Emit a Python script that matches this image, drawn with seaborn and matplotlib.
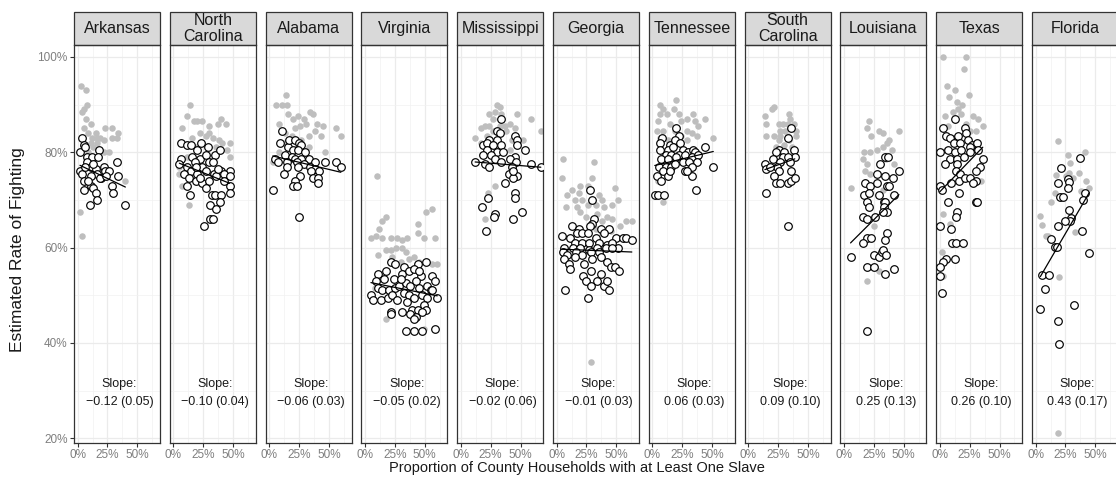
import pandas as pd
import matplotlib
matplotlib.use("Agg")
import matplotlib.pyplot as plt
from matplotlib.patches import Rectangle
from matplotlib.ticker import FuncFormatter, MultipleLocator
import seaborn as sns

# Panel order, slope labels and fitted-line intercepts (percent at x = 0).
states = ["Arkansas", "North\nCarolina", "Alabama", "Virginia", "Mississippi", "Georgia",
          "Tennessee", "South\nCarolina", "Louisiana", "Texas", "Florida"]
slopes = [-0.12, -0.10, -0.06, -0.05, -0.02, -0.01, 0.06, 0.09, 0.25, 0.26, 0.43]
slope_se = [0.05, 0.04, 0.03, 0.02, 0.06, 0.03, 0.03, 0.10, 0.13, 0.10, 0.17]
intercepts = [77.5, 78.2, 79.4, 52.9, 78.2, 59.7, 77.1, 75.1, 59.6, 71.7, 52.2]

# (share of households with a slave %, rate of fighting %).
# grey = filled grey dots, open = white circles with black edge.
ark_grey = [(3, 94), (7, 93), (8, 90), (5, 89), (4, 88.5), (7, 87), (11, 86), (5, 85), (9, 84), (12, 83),
            (15, 84), (16, 83), (19, 83), (22, 82.5), (23, 85), (29, 85), (34, 84), (33, 83), (29, 83),
            (16, 82), (13, 81), (11, 82), (26, 80), (22, 80), (40, 74), (2, 67.5), (4, 62.5), (7, 79),
            (18, 80.5), (9, 80)]
ark_open = [(4, 83), (5, 81.5), (2, 80), (6, 81), (8, 79), (12, 79), (18, 80.5), (17, 79), (8, 78), (2, 76),
            (4, 75.5), (11, 77), (15, 76.5), (16, 75.5), (22, 77), (23, 76), (26, 76), (20, 74.5), (33, 78),
            (34, 75), (29, 73), (30, 71.5), (5, 74), (5, 72), (11, 73), (13, 72.5), (15, 71.5), (16, 70),
            (10, 69), (40, 69), (6, 77), (11, 75), (13, 77.5), (19, 74.5), (9, 74), (24, 75)]

nc_grey = [(14, 90), (11, 87.5), (17, 86.5), (20, 86.5), (24, 86.5), (30, 85.5), (37, 86), (40, 87), (44, 86),
           (7, 85), (30, 84), (27, 83.5), (22, 84), (16, 83), (33, 83), (38, 82.5), (41, 82), (47, 82),
           (45, 80.5), (47, 79), (11, 79), (5, 77), (5, 75.5), (7, 73), (13, 69), (36, 81), (24, 82), (19, 81)]
nc_open = [(6, 82), (11, 81.5), (15, 81.5), (20, 80.5), (23, 82), (29, 81), (35, 79.5), (39, 80.5), (6, 78.5),
           (5, 77.5), (16, 79), (22, 78.5), (27, 79.5), (18, 78), (24, 77), (30, 78), (33, 78), (11, 77),
           (15, 76), (20, 75.5), (27, 76), (34, 75.5), (40, 76), (47, 76), (9, 75.5), (13, 74.5), (19, 74),
           (24, 73.5), (30, 74), (36, 75), (42, 75.5), (47, 75), (47, 73), (11, 73), (22, 74.5), (27, 72.5),
           (32, 71), (35, 71), (40, 71), (47, 71.5), (14, 71), (31, 69), (39, 69.5), (36, 68), (31, 66),
           (33, 66), (26, 64.5), (19, 77), (37, 76.5), (42, 74)]

ala_grey = [(14, 92), (6, 90), (11, 90), (15, 90), (8, 86), (16, 88), (20, 87), (24, 87.5), (29, 87), (34, 88.5),
            (37, 88), (31, 86), (40, 86), (45, 85.5), (56, 85), (60, 83.5), (22, 85), (26, 85.5), (13, 84),
            (19, 83.5), (33, 83.5), (38, 84.5), (43, 83.5), (27, 82.5), (23, 81), (33, 81), (47, 80), (13, 82),
            (8, 80), (3, 78)]
ala_open = [(11, 84.5), (9, 82), (16, 81), (17, 82.5), (22, 82.5), (25, 82), (27, 81.5), (20, 80.5), (24, 80.5),
            (30, 80), (13, 79.5), (19, 79), (5, 78.5), (7, 78), (15, 78), (22, 78.5), (27, 78.5), (33, 78.5),
            (38, 78), (47, 78), (56, 78), (60, 77), (23, 78), (29, 77.5), (34, 77), (38, 76.5), (42, 76),
            (35, 76), (15, 77), (12, 75.5), (24, 77), (26, 75), (37, 74.5), (41, 74.5), (22, 74), (20, 73),
            (23, 73), (41, 73.5), (3, 72), (25, 66.5)]

va_grey = [(10, 75), (17.5, 66.5), (14.5, 65.5), (12, 64), (9, 62.5), (5, 62), (14.5, 62), (21.5, 62), (27, 62),
           (31, 61.5), (35.5, 62), (44, 65), (44, 63), (49.5, 62), (51, 67.5), (56, 68), (59, 62), (10.5, 58.5),
           (17.5, 59.5), (21.5, 59.5), (26, 60), (31, 60), (34.5, 59), (37, 57.5), (41, 58), (45, 57), (51, 57),
           (56.5, 56.5), (60.5, 56.5), (30, 57), (17.5, 45), (49.5, 43), (8, 51.5), (23, 58)]
va_open = [(21.5, 57), (25, 56.5), (10.5, 54.5), (17.5, 55), (33, 56), (44, 56.5), (51, 57), (9, 53), (16, 53.5),
           (24.5, 53.5), (31, 54.5), (37, 55), (41, 55.5), (47, 54), (56.5, 54), (59, 53), (5, 50), (7, 49),
           (10.5, 51.5), (14.5, 51), (20, 51), (25, 51.5), (28.5, 52), (34, 52.5), (37.5, 52), (42.5, 53),
           (45, 51.5), (52, 52), (55, 51), (60.5, 49.5), (13, 49), (19, 49.5), (23, 50), (27, 49), (33, 50.5),
           (37, 50), (41, 49.5), (48, 50), (52, 49.5), (56.5, 51), (35.5, 48.5), (39.5, 47), (44, 47),
           (49.5, 48), (51, 47), (21.5, 46.5), (21.5, 46), (31, 46.5), (38, 46), (42.5, 45.5), (48, 46.5),
           (41, 45), (34, 42.5), (41, 42.5), (47.5, 42.5), (58.5, 43), (30, 53.5), (45, 55)]

ms_grey = [(30, 90), (33, 89.5), (29, 88.5), (24, 88), (34, 88), (27, 87), (47, 88), (59, 87), (20, 85.5),
           (17, 85), (24, 85.5), (33, 85.5), (37, 85.5), (41, 86), (45, 85), (67, 84.5), (12, 83), (22, 83.5),
           (27, 84.5), (38, 84.5), (43, 82.5), (52, 82.5), (48, 82), (17, 82), (41, 80.5), (29, 73),
           (23, 71.5), (20, 66)]
ms_open = [(34, 87), (30, 84.5), (33, 84), (45, 83.5), (47, 82.5), (47, 81.5), (19, 81.5), (24, 82.5), (30, 82.5),
           (22, 82), (27, 81.5), (34, 81.5), (54, 80.5), (22, 80.5), (30, 80), (35, 80), (19, 79.5), (25, 79.5),
           (45, 79), (41, 78.5), (29, 78.5), (12, 78), (20, 77.5), (34, 78), (46, 78), (59, 77.5), (67, 77),
           (24, 77), (43, 77), (40, 75.5), (47, 75), (44, 74.5), (44, 76), (37, 73.5), (45, 71.5), (45, 70.5),
           (22.5, 70.5), (18, 68.5), (29, 67), (28, 66.5), (51, 67.5), (44, 66), (21.5, 63.5)]

ga_grey = [(5.5, 78.5), (31, 78), (4.5, 74.5), (20, 73), (26, 73), (29.5, 74.5), (13, 72), (19, 71.5), (49, 72.5),
           (9, 71), (15, 70), (21.5, 70), (26, 69), (35.5, 71), (38, 70), (51, 70), (8, 68.5), (17.5, 68.5),
           (33, 69), (39.5, 68.5), (46.5, 69), (20, 67.5), (24.5, 66.5), (34, 67), (42.5, 66.5), (30, 65),
           (38, 65.5), (46.5, 66), (58, 65.5), (63, 65.5), (53.5, 64.5), (45.5, 63.5), (38, 63), (16, 63),
           (23, 63), (33, 64), (28.5, 36)]
ga_open = [(28, 72), (30, 70), (31.5, 66), (29.5, 65), (28, 64.5), (13, 64.5), (19, 64), (37, 64), (44, 64),
           (4.5, 62.5), (11, 62), (17.5, 63), (21.5, 63), (26, 63), (33, 62), (39.5, 63), (49.5, 62), (56, 62),
           (58, 62), (63, 61.5), (15, 61), (21.5, 61), (27, 61), (35.5, 61), (42.5, 60.5), (46.5, 61), (51, 60),
           (6.5, 60), (13.5, 60), (20, 60), (27, 59.5), (34, 60), (41, 60), (46.5, 60), (5, 59), (9, 58.5),
           (16, 59), (21.5, 58.5), (28.5, 59), (35.5, 59), (6.5, 57.5), (10.5, 56.5), (15, 58), (23, 56.5),
           (30, 57.5), (37, 58), (42.5, 57), (45.5, 56), (49, 56), (52, 55), (11, 55.5), (28.5, 55), (37, 54.5),
           (22, 54), (24.5, 53), (34, 53), (39.5, 52), (42.5, 53), (28.5, 52), (7, 51), (43.5, 51), (26.5, 49.5)]

tn_grey = [(20, 91), (6, 90), (9, 89), (18, 89), (6, 88), (12, 88), (22, 88), (34, 88), (29, 87), (44, 87),
           (5, 86.5), (15, 86), (24, 86.5), (36, 86.5), (38, 85.5), (9, 84.5), (19, 84.5), (29, 84.5), (33, 84),
           (4, 84.5), (24, 83.5), (37, 83.5), (51, 83), (6, 83), (13, 82.5), (29, 82.5), (5, 74), (9, 69.5),
           (17.5, 80.5)]
tn_open = [(20, 85), (22, 83.5), (8, 83), (6, 82), (15, 81.5), (19, 82.5), (23, 82), (6, 80.5), (13, 80.5),
           (17.5, 81), (26, 80.5), (30, 80), (34, 80.5), (36, 80), (44, 81), (11, 79.5), (16, 79.5), (22, 79.5),
           (27, 79.5), (33, 79), (38, 79.5), (7, 78.5), (13, 78.5), (20, 79), (26, 78), (31, 78), (37, 78),
           (5.5, 77), (11, 77), (16, 77), (19, 77.5), (33, 77), (51, 77), (27, 76), (9, 76), (13, 75), (15, 76),
           (33, 75), (4, 75), (7, 74), (36.5, 72), (2, 71), (5, 71), (10, 71), (29, 76)]

sc_grey = [(22, 89.5), (20, 89), (14, 87.5), (34, 88), (35, 87), (15, 86), (26, 86), (29, 86), (33, 86), (38, 86),
           (27, 84.5), (31, 84.5), (40, 84.5), (15, 83.5), (27, 83.5), (33, 83.5), (40, 83.5), (22, 83.5),
           (26, 82.5), (34, 82.5), (23, 81), (30, 81.5), (37, 81)]
sc_open = [(36, 85), (33, 83), (26, 80.5), (23, 80), (30, 80), (38, 80.5), (39, 79), (21, 78.5), (29, 79), (33, 79),
           (14, 77.5), (27, 78), (35, 78), (24, 77), (15, 76.5), (26, 76), (22, 75), (36, 76), (23, 73.5),
           (27, 73.5), (33, 73.5), (36, 74), (39, 74.5), (15, 71.5), (33, 64.5), (18, 77)]

la_grey = [(21, 86.5), (19, 85), (29, 84.5), (33, 84), (23, 83.5), (46, 84.5), (36, 82), (37.5, 82.5), (33, 81),
           (28, 80.5), (17, 80), (22, 80), (40.5, 80.5), (16, 78.5), (19, 77.5), (35.5, 78.5), (41.5, 77.5),
           (18, 76), (22, 75.5), (5.5, 72.5), (33, 72), (25, 64.5), (29, 55), (19, 53)]
la_open = [(34.5, 79), (37, 79), (30, 77.5), (46, 76), (28, 75.5), (34.5, 75), (41, 74.5), (18, 73.5), (22, 73),
           (28, 73.5), (36, 73), (37.5, 73), (17, 71), (21, 71.5), (29, 71), (41.5, 71), (33.5, 69.5),
           (34.5, 69.5), (19.5, 69.5), (21, 68.5), (33.5, 68.5), (36, 67.5), (16, 66.5), (19.5, 66), (26, 66.5),
           (33, 67.5), (19, 62), (23, 62), (16, 61), (36, 63), (34.5, 61.5), (25, 58.5), (29, 58), (32, 59),
           (33, 59.5), (35.5, 58.5), (5.5, 58), (19, 56), (25.5, 56), (41.5, 55.5), (34.5, 54.5), (19.5, 42.5)]

tx_grey = [(3, 100), (22, 100), (20.5, 97.5), (6, 94), (12.5, 93), (8, 91.5), (14, 90.5), (24.5, 92), (19, 90),
           (11, 88.5), (15, 89), (18, 88), (28, 87.5), (32, 87), (36, 85.5), (7, 85.5), (22, 86), (25, 84.5),
           (30.5, 84.5), (11, 83), (5.5, 80.5), (34.5, 74), (3, 67), (8.5, 65), (1.5, 59), (3, 54), (4, 87.5)]
tx_open = [(12.5, 87), (3, 85), (5.5, 83.5), (8.5, 83), (15, 83.5), (21, 85), (22, 84), (11.5, 82), (17, 82),
           (24, 82.5), (27, 81.5), (31, 82), (0, 80), (7, 80.5), (12.5, 80), (18, 80.5), (25, 81), (32, 80.5),
           (8.5, 78.5), (14, 78.5), (20, 79), (25, 80), (4, 77.5), (14, 77.5), (36, 78.5), (33.5, 77),
           (13.5, 76), (17, 75.5), (30, 76), (16, 74), (21, 74.5), (25, 74.5), (30.5, 74), (28, 73.5),
           (9.5, 73.5), (0, 73), (1.5, 72), (16, 71.5), (7, 69.5), (30, 69.5), (31, 69.5), (14, 67.5),
           (13.5, 66.5), (0, 64.5), (9.5, 64), (10.5, 61), (13.5, 61), (19.5, 61), (12.5, 57.5), (5.5, 57.5),
           (3, 57), (0.5, 56), (0.5, 54), (1.5, 50.5)]

fl_grey = [(18.6, 82.3), (27, 79.4), (41, 80), (29, 77.7), (36.7, 75.6), (17, 75.2), (28, 75.7), (25.5, 75),
           (31, 74.7), (42, 74), (45, 72.6), (38, 71.9), (16, 71.5), (13, 69.6), (4, 66.7), (5.5, 64.7),
           (8.5, 62.5), (10, 62.4), (33, 63.3), (20, 53.8), (18.6, 21.2)]
fl_open = [(37, 78.8), (21, 76.6), (18.6, 73.6), (27.5, 74.3), (28, 73.8), (27, 72.4), (20.5, 70.7), (23, 70.7),
           (41.5, 71.5), (40, 70), (28, 67.8), (30, 66.2), (28.5, 65.6), (25, 65.6), (18.6, 64.6), (39, 63.5),
           (13, 61.7), (16, 60.2), (17.8, 60.1), (45, 58.9), (5.3, 54.3), (11, 54.2), (8, 51.4), (4, 47.2),
           (32.5, 48), (18.6, 44.6), (20, 39.7)]

grey_pts = [ark_grey, nc_grey, ala_grey, va_grey, ms_grey, ga_grey, tn_grey, sc_grey, la_grey, tx_grey, fl_grey]
open_pts = [ark_open, nc_open, ala_open, va_open, ms_open, ga_open, tn_open, sc_open, la_open, tx_open, fl_open]

# Long table for seaborn.
rows = []
for st, gp, op in zip(states, grey_pts, open_pts):
    for x, y in gp:
        rows.append((st, x / 100, y / 100, "grey"))
    for x, y in op:
        rows.append((st, x / 100, y / 100, "open"))
df = pd.DataFrame(rows, columns=["state", "share", "rate", "kind"])

sns.set_theme(style="whitegrid", rc={"axes.edgecolor": "#333333", "grid.color": "#EBEBEB"})
plt.rcParams["font.family"] = ["Liberation Sans", "DejaVu Sans"]

g = sns.FacetGrid(df, col="state", col_order=states, sharex=True, sharey=True, height=4, aspect=0.25)
g.map_dataframe(lambda data, **kw: sns.scatterplot(data=data[data["kind"] == "grey"], x="share", y="rate",
                                                   color="#BEBEBE", s=22, linewidth=0, zorder=2))
g.map_dataframe(lambda data, **kw: sns.scatterplot(data=data[data["kind"] == "open"], x="share", y="rate",
                                                   color="white", edgecolor="black", s=30, linewidth=0.85,
                                                   zorder=3))
g.set_titles("")
g.set_axis_labels("", "")

fig = g.figure
fig.set_size_inches(11.16, 4.8)
W, H = 1116, 480
pct = FuncFormatter(lambda v, _: f"{v * 100:.0f}%")
strip_h = 33 / 398

for i, (ax, st) in enumerate(zip(g.axes.flat, states)):
    ax.set_position([(74 + i * 95.8) / W, 37 / H, 86 / W, 398 / H])
    ax.set_xlim(-0.03, 0.69)
    ax.set_ylim(0.19, 1.025)
    ax.xaxis.set_major_locator(MultipleLocator(0.25))
    ax.xaxis.set_minor_locator(MultipleLocator(0.125))
    ax.yaxis.set_major_locator(MultipleLocator(0.2))
    ax.yaxis.set_minor_locator(MultipleLocator(0.1))
    ax.xaxis.set_major_formatter(pct)
    ax.yaxis.set_major_formatter(pct)
    ax.grid(which="major", color="#EBEBEB", linewidth=0.9)
    ax.grid(which="minor", color="#F1F1F1", linewidth=0.5)
    ax.set_xlabel("")
    ax.set_ylabel("")
    for sp in ax.spines.values():
        sp.set_visible(True)
        sp.set_color("#333333")
        sp.set_linewidth(0.9)
    ax.tick_params(axis="x", which="major", bottom=True, length=3, width=0.8, color="#333333",
                   labelsize=8.5, labelcolor="#7F7F7F", pad=1.5)
    ax.tick_params(axis="y", which="major", left=(i == 0), length=3, width=0.8, color="#333333",
                   labelsize=8.5, labelcolor="#7F7F7F", pad=1.5, labelleft=(i == 0))
    ax.tick_params(which="minor", length=0)

    # fitted line over the range of the open circles
    xs = [p[0] / 100 for p in open_pts[i]]
    x0, x1 = min(xs), max(xs)
    b = slopes[i]
    a = intercepts[i] / 100
    sns.lineplot(x=[x0, x1], y=[a + b * x0, a + b * x1], ax=ax, color="black", linewidth=0.9, zorder=4)

    label = f"Slope:\n{slopes[i]:.2f} ({slope_se[i]:.2f})".replace("-", "\u2212")
    ax.text(0.35, 0.295, label, ha="center", va="center", fontsize=9, color="#1A1A1A", linespacing=1.7)

    # strip on top of the panel
    ax.add_patch(Rectangle((0, 1), 1, strip_h, transform=ax.transAxes, clip_on=False,
                           facecolor="#D9D9D9", edgecolor="#333333", linewidth=0.9))
    ax.text(0.5, 1 + strip_h / 2, st, transform=ax.transAxes, ha="center", va="center",
            fontsize=11.5, color="#1A1A1A", linespacing=1.05)

fig.text(18 / W, 1 - 250 / H, "Estimated Rate of Fighting", rotation=90, ha="center", va="center",
         fontsize=12.5, color="#1A1A1A")
fig.text(577 / W, 1 - 468 / H, "Proportion of County Households with at Least One Slave", ha="center",
         va="center", fontsize=10.5, color="#1A1A1A")

fig.savefig("out.png", dpi=100)
